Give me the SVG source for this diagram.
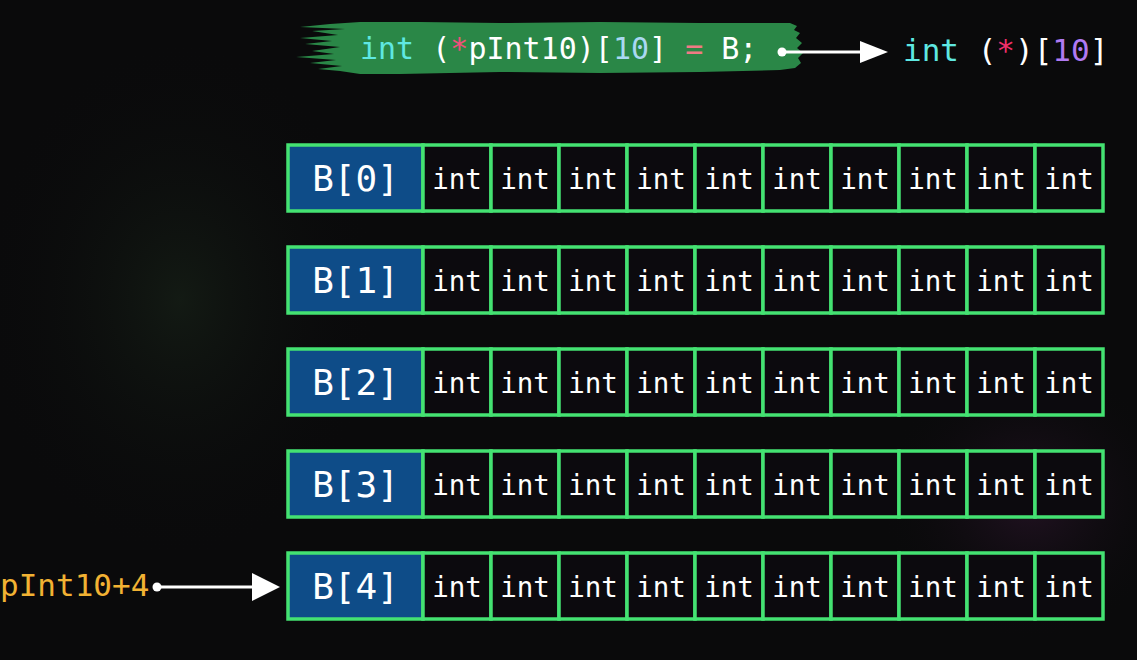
<svg xmlns="http://www.w3.org/2000/svg" width="1137" height="660" viewBox="0 0 1137 660">
<defs>
<style>
.mono{font-family:"DejaVu Sans Mono","Liberation Mono",monospace;}
.bcell{fill:#0e4c88;stroke:#44e272;stroke-width:3.5;}
.icell{fill:#0c0a0e;stroke:#44e272;stroke-width:3.5;}
.btxt{font-family:"DejaVu Sans Mono","Liberation Mono",monospace;font-size:36px;fill:#ffffff;text-anchor:middle;}
.itxt{font-family:"DejaVu Sans Mono","Liberation Mono",monospace;font-size:27.5px;fill:#ffffff;text-anchor:middle;}
.conn{stroke:#ffffff;stroke-width:3;fill:none;}
</style>
<radialGradient id="glow" cx="0.5" cy="0.5" r="0.5">
<stop offset="0" stop-color="#3a1a3a" stop-opacity="0.5"/>
<stop offset="1" stop-color="#0a0a0c" stop-opacity="0"/>
</radialGradient>
<radialGradient id="glow2" cx="0.5" cy="0.5" r="0.5">
<stop offset="0" stop-color="#1c2a1c" stop-opacity="0.5"/>
<stop offset="1" stop-color="#0a0a0c" stop-opacity="0"/>
</radialGradient>
</defs>
<rect x="0" y="0" width="1137" height="660" fill="#0a0a0b"/>
<ellipse cx="1030" cy="500" rx="150" ry="140" fill="url(#glow)"/>
<ellipse cx="180" cy="300" rx="200" ry="260" fill="url(#glow2)"/>

<g id="header">
<path d="M300,27 L330,24 L360,22 L420,22 L500,23 L600,22 L700,23 L790,23 L797,26 L794,30 L800,33 L796,38 L802,43 L797,48 L803,53 L798,58 L801,63 L795,68 L780,70 L700,72 L600,73 L500,72 L400,74 L360,74 L340,71 L318,69 L342,66 L310,63 L336,60 L296,57 L334,54 L312,51 L340,47 L305,44 L332,41 L300,38 L338,35 L312,31 L345,29 Z" fill="#2a8747"/>
<text class="mono" x="360" y="59" font-size="30" fill="#ffffff" xml:space="preserve"><tspan fill="#5fe8e2">int</tspan> (<tspan fill="#f0507a">*</tspan>pInt10)[<tspan fill="#a9d8f2">10</tspan>] <tspan fill="#f07a84">=</tspan> B;</text>
<text class="mono" x="903" y="61" font-size="31" fill="#ffffff" xml:space="preserve"><tspan fill="#5fe8e2">int</tspan> (<tspan fill="#f0306a">*</tspan>)[<tspan fill="#b07af2">10</tspan>]</text>
</g>

<g id="label-pInt10-4">
<text class="mono" x="0" y="596" font-size="31" fill="#f2b233">pInt10+4</text>
</g>

<g id="row-B0">
<rect class="bcell" x="288" y="145" width="135" height="66"/>
<text class="btxt" x="355.5" y="191">B[0]</text>
<rect class="icell" x="423" y="145" width="68" height="66"/><text class="itxt" x="457" y="189">int</text>
<rect class="icell" x="491" y="145" width="68" height="66"/><text class="itxt" x="525" y="189">int</text>
<rect class="icell" x="559" y="145" width="68" height="66"/><text class="itxt" x="593" y="189">int</text>
<rect class="icell" x="627" y="145" width="68" height="66"/><text class="itxt" x="661" y="189">int</text>
<rect class="icell" x="695" y="145" width="68" height="66"/><text class="itxt" x="729" y="189">int</text>
<rect class="icell" x="763" y="145" width="68" height="66"/><text class="itxt" x="797" y="189">int</text>
<rect class="icell" x="831" y="145" width="68" height="66"/><text class="itxt" x="865" y="189">int</text>
<rect class="icell" x="899" y="145" width="68" height="66"/><text class="itxt" x="933" y="189">int</text>
<rect class="icell" x="967" y="145" width="68" height="66"/><text class="itxt" x="1001" y="189">int</text>
<rect class="icell" x="1035" y="145" width="68" height="66"/><text class="itxt" x="1069" y="189">int</text>
</g>

<g id="row-B1">
<rect class="bcell" x="288" y="247" width="135" height="66"/>
<text class="btxt" x="355.5" y="293">B[1]</text>
<rect class="icell" x="423" y="247" width="68" height="66"/><text class="itxt" x="457" y="291">int</text>
<rect class="icell" x="491" y="247" width="68" height="66"/><text class="itxt" x="525" y="291">int</text>
<rect class="icell" x="559" y="247" width="68" height="66"/><text class="itxt" x="593" y="291">int</text>
<rect class="icell" x="627" y="247" width="68" height="66"/><text class="itxt" x="661" y="291">int</text>
<rect class="icell" x="695" y="247" width="68" height="66"/><text class="itxt" x="729" y="291">int</text>
<rect class="icell" x="763" y="247" width="68" height="66"/><text class="itxt" x="797" y="291">int</text>
<rect class="icell" x="831" y="247" width="68" height="66"/><text class="itxt" x="865" y="291">int</text>
<rect class="icell" x="899" y="247" width="68" height="66"/><text class="itxt" x="933" y="291">int</text>
<rect class="icell" x="967" y="247" width="68" height="66"/><text class="itxt" x="1001" y="291">int</text>
<rect class="icell" x="1035" y="247" width="68" height="66"/><text class="itxt" x="1069" y="291">int</text>
</g>

<g id="row-B2">
<rect class="bcell" x="288" y="349" width="135" height="66"/>
<text class="btxt" x="355.5" y="395">B[2]</text>
<rect class="icell" x="423" y="349" width="68" height="66"/><text class="itxt" x="457" y="393">int</text>
<rect class="icell" x="491" y="349" width="68" height="66"/><text class="itxt" x="525" y="393">int</text>
<rect class="icell" x="559" y="349" width="68" height="66"/><text class="itxt" x="593" y="393">int</text>
<rect class="icell" x="627" y="349" width="68" height="66"/><text class="itxt" x="661" y="393">int</text>
<rect class="icell" x="695" y="349" width="68" height="66"/><text class="itxt" x="729" y="393">int</text>
<rect class="icell" x="763" y="349" width="68" height="66"/><text class="itxt" x="797" y="393">int</text>
<rect class="icell" x="831" y="349" width="68" height="66"/><text class="itxt" x="865" y="393">int</text>
<rect class="icell" x="899" y="349" width="68" height="66"/><text class="itxt" x="933" y="393">int</text>
<rect class="icell" x="967" y="349" width="68" height="66"/><text class="itxt" x="1001" y="393">int</text>
<rect class="icell" x="1035" y="349" width="68" height="66"/><text class="itxt" x="1069" y="393">int</text>
</g>

<g id="row-B3">
<rect class="bcell" x="288" y="451" width="135" height="66"/>
<text class="btxt" x="355.5" y="497">B[3]</text>
<rect class="icell" x="423" y="451" width="68" height="66"/><text class="itxt" x="457" y="495">int</text>
<rect class="icell" x="491" y="451" width="68" height="66"/><text class="itxt" x="525" y="495">int</text>
<rect class="icell" x="559" y="451" width="68" height="66"/><text class="itxt" x="593" y="495">int</text>
<rect class="icell" x="627" y="451" width="68" height="66"/><text class="itxt" x="661" y="495">int</text>
<rect class="icell" x="695" y="451" width="68" height="66"/><text class="itxt" x="729" y="495">int</text>
<rect class="icell" x="763" y="451" width="68" height="66"/><text class="itxt" x="797" y="495">int</text>
<rect class="icell" x="831" y="451" width="68" height="66"/><text class="itxt" x="865" y="495">int</text>
<rect class="icell" x="899" y="451" width="68" height="66"/><text class="itxt" x="933" y="495">int</text>
<rect class="icell" x="967" y="451" width="68" height="66"/><text class="itxt" x="1001" y="495">int</text>
<rect class="icell" x="1035" y="451" width="68" height="66"/><text class="itxt" x="1069" y="495">int</text>
</g>

<g id="row-B4">
<rect class="bcell" x="288" y="553" width="135" height="66"/>
<text class="btxt" x="355.5" y="599">B[4]</text>
<rect class="icell" x="423" y="553" width="68" height="66"/><text class="itxt" x="457" y="597">int</text>
<rect class="icell" x="491" y="553" width="68" height="66"/><text class="itxt" x="525" y="597">int</text>
<rect class="icell" x="559" y="553" width="68" height="66"/><text class="itxt" x="593" y="597">int</text>
<rect class="icell" x="627" y="553" width="68" height="66"/><text class="itxt" x="661" y="597">int</text>
<rect class="icell" x="695" y="553" width="68" height="66"/><text class="itxt" x="729" y="597">int</text>
<rect class="icell" x="763" y="553" width="68" height="66"/><text class="itxt" x="797" y="597">int</text>
<rect class="icell" x="831" y="553" width="68" height="66"/><text class="itxt" x="865" y="597">int</text>
<rect class="icell" x="899" y="553" width="68" height="66"/><text class="itxt" x="933" y="597">int</text>
<rect class="icell" x="967" y="553" width="68" height="66"/><text class="itxt" x="1001" y="597">int</text>
<rect class="icell" x="1035" y="553" width="68" height="66"/><text class="itxt" x="1069" y="597">int</text>
</g>

<g id="connectors">
<circle cx="782" cy="52" r="4.5" fill="#ffffff"/>
<line class="conn" x1="782" y1="52" x2="862" y2="52"/>
<polygon points="860,41 888,52 860,63" fill="#ffffff"/>
<circle cx="157" cy="587" r="4.5" fill="#ffffff"/>
<line class="conn" x1="157" y1="587" x2="254" y2="587"/>
<polygon points="252,573 280,587 252,601" fill="#ffffff"/>
</g>
</svg>
